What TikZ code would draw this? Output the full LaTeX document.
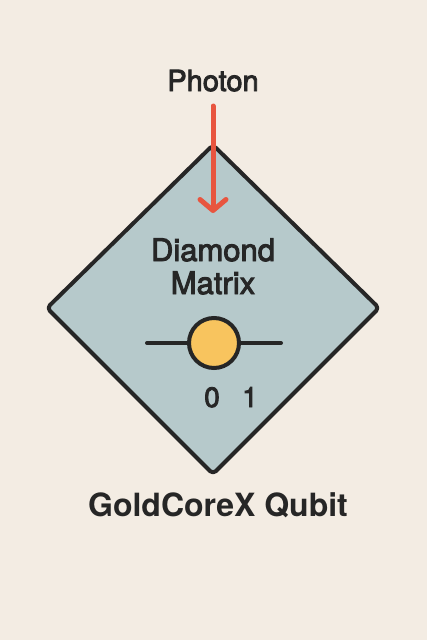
\documentclass[tikz,border=0pt]{standalone}
\usepackage{fontspec}
\setmainfont{TeX Gyre Heros}
\newfontfamily\medfont[FakeBold=3]{TeX Gyre Heros}
\usetikzlibrary{arrows.meta}
\definecolor{bgc}{HTML}{F3ECE3}
\definecolor{dfill}{HTML}{B6C9CB}
\definecolor{ink}{HTML}{262626}
\definecolor{photonred}{HTML}{E8553F}
\definecolor{goldc}{HTML}{F8C45E}
\tikzset{
  lbl/.style={text=ink, inner sep=0pt, anchor=base},
  phtext/.style={lbl, font=\medfont\fontsize{29}{33}\selectfont},
  midtext/.style={lbl, font=\medfont\fontsize{31}{35}\selectfont},
  numtext/.style={lbl, font=\medfont\fontsize{28}{32}\selectfont},
  titletext/.style={lbl, font=\fontsize{32}{36}\selectfont\bfseries},
  edge/.style={draw=ink, line width=4pt},
}
\begin{document}
\begin{tikzpicture}[x=1pt,y=-1pt]
\useasboundingbox (0,0) rectangle (427,640);
\fill[bgc] (0,0) rectangle (427,640);
% diamond
\coordinate (top) at (213,145);
\coordinate (right) at (379,308);
\coordinate (bottom) at (213,474);
\coordinate (left) at (47,308);
\filldraw[edge, fill=dfill, rounded corners=4pt, line join=round] (top) -- (right) -- (bottom) -- (left) -- cycle;
% texts
\node[phtext] (photon) at (213,91) {Photon};
\node[midtext] (dm1) at (213,261) {Diamond};
\node[midtext] (dm2) at (213,294) {Matrix};
\node[numtext] (zero) at (212,407) {0};
\node[numtext] (one) at (250,407) {1};
\node[titletext] (title) at (218,516) {GoldCoreX Qubit};
% qubit line and core
\coordinate (la) at (147,343);
\coordinate (lb) at (281,343);
\draw[edge, line cap=round] (la) -- (lb);
\node[circle, draw=ink, line width=4pt, fill=goldc, minimum size=50pt, inner sep=0pt] (core) at (214,343) {};
% photon arrow
\coordinate (pa) at (213,106);
\coordinate (pb) at (213,213);
\draw[photonred, line width=5pt, line cap=round, -{Straight Barb[length=11pt, width=26pt, round]}] (pa) -- (pb);
\end{tikzpicture}
\end{document}
